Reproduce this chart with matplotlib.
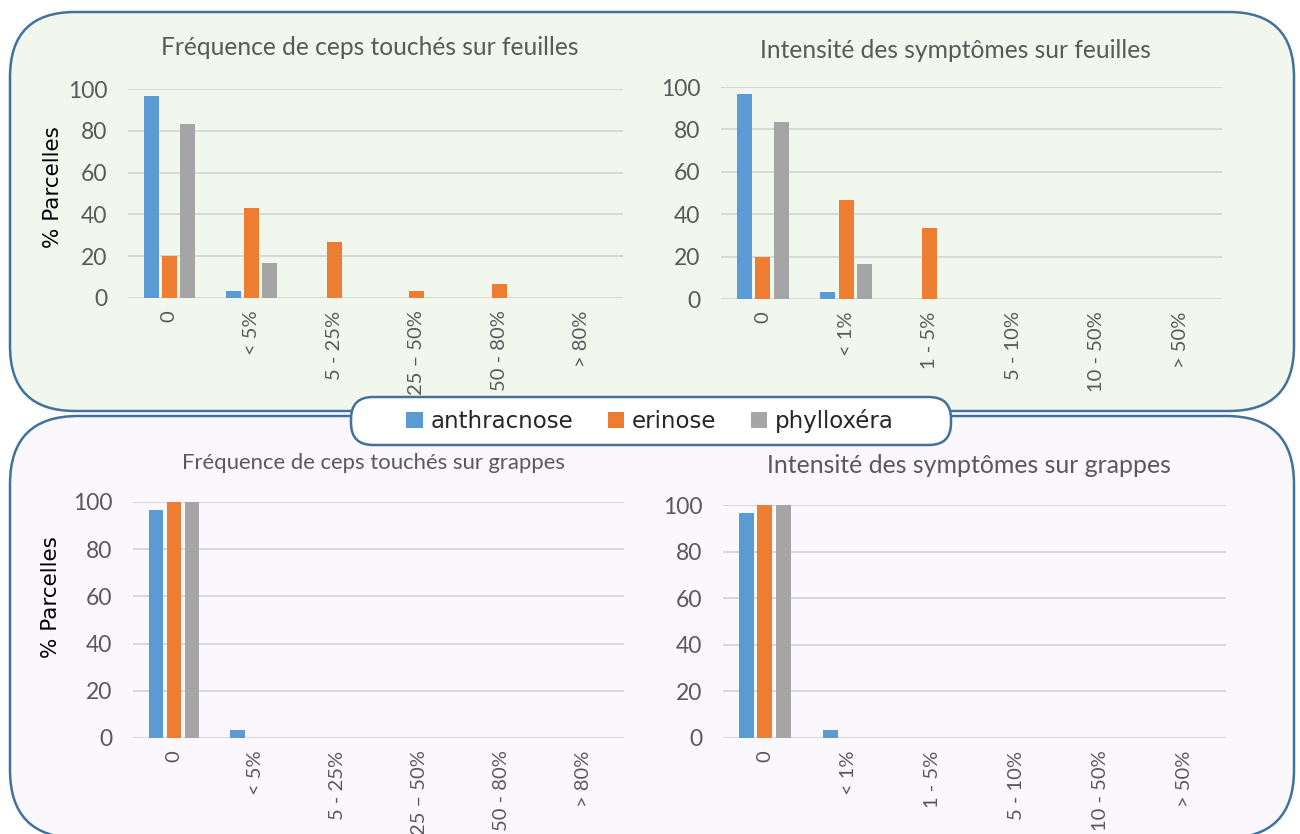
import matplotlib
matplotlib.use("Agg")
import numpy as np
import matplotlib.pyplot as plt
from matplotlib.patches import FancyBboxPatch

W, H = 1300, 834

series = ['anthracnose', 'erinose', 'phylloxéra']
colors = ['#5B9BD5', '#ED7D31', '#A5A5A5']

freq_cats = ['0', '< 5%', '5 - 25%', '25 – 50%', '50 - 80%', '> 80%']
int_cats = ['0', '< 1%', '1 - 5%', '5 - 10%', '10 - 50%', '> 50%']

# % parcelles per class (anthracnose, erinose, phylloxéra)
freq_feuilles = [
    [96.7, 3.3, 0, 0, 0, 0],
    [20.0, 43.3, 26.7, 3.3, 6.7, 0],
    [83.3, 16.7, 0, 0, 0, 0],
]
int_feuilles = [
    [96.7, 3.3, 0, 0, 0, 0],
    [20.0, 46.7, 33.3, 0, 0, 0],
    [83.3, 16.7, 0, 0, 0, 0],
]
freq_grappes = [
    [96.7, 3.3, 0, 0, 0, 0],
    [100.0, 0, 0, 0, 0, 0],
    [100.0, 0, 0, 0, 0, 0],
]
int_grappes = [
    [96.7, 3.3, 0, 0, 0, 0],
    [100.0, 0, 0, 0, 0, 0],
    [100.0, 0, 0, 0, 0, 0],
]

TXT = '#595959'
BORDER = '#41719C'
TFONT = 'Lato'

fig = plt.figure(figsize=(W / 100, H / 100), dpi=100)

# background layer in pixel coordinates
bg = fig.add_axes([0, 0, 1, 1], zorder=0)
bg.set_xlim(0, W)
bg.set_ylim(H, 0)
bg.axis('off')


def rbox(x0, y0, x1, y1, r, fc):
    p = FancyBboxPatch((x0, y0), x1 - x0, y1 - y0,
                       boxstyle=f"round,pad=0,rounding_size={r}",
                       fc=fc, ec=BORDER, lw=1.8)
    bg.add_patch(p)


rbox(10, 12, 1294, 411, 65, '#F2F7EE')
rbox(10, 416, 1294, 838, 68, '#FBF8FD')
rbox(351, 397, 951, 445, 22, 'white')


def chart(x0, y0, x1, y1, cats, data, title, tpos, tsize, ylabel=None):
    ax = fig.add_axes([x0 / W, 1 - y1 / H, (x1 - x0) / W, (y1 - y0) / H], zorder=2)
    ax.set_facecolor('none')
    x = np.arange(len(cats))
    bars = []
    for i, (vals, c) in enumerate(zip(data, colors)):
        b = ax.bar(x + (i - 1) * 0.22, vals, width=0.18, color=c, zorder=3)
        bars.append(b)
    ax.set_xlim(-0.5, len(cats) - 0.5)
    ax.set_ylim(0, 100)
    ax.set_yticks(range(0, 101, 20))
    ax.set_xticks(x)
    ax.set_xticklabels(cats, rotation=90, fontsize=14.5, color=TXT, family=TFONT)
    for lab in ax.get_yticklabels():
        lab.set_fontsize(16.5)
        lab.set_color(TXT)
        lab.set_family(TFONT)
    ax.tick_params(length=0)
    ax.tick_params(axis='y', pad=15)
    ax.tick_params(axis='x', pad=9)
    ax.grid(axis='y', color='#D9D9D9', lw=1.5, zorder=0)
    for s in ax.spines.values():
        s.set_visible(False)
    bg.text(tpos[0], tpos[1], title, ha='center', va='center',
            fontsize=tsize, color=TXT, family=TFONT)
    if ylabel:
        bg.text(ylabel[0], ylabel[1], '% Parcelles', rotation=90,
                ha='center', va='center', fontsize=15.5, color='black',
                family='DejaVu Sans')
    return bars


bars = chart(128, 89, 623, 298, freq_cats, freq_feuilles,
             'Fréquence de ceps touchés sur feuilles', (370, 47), 17.7, (53, 187))
chart(721, 87, 1222, 299, int_cats, int_feuilles,
      'Intensité des symptômes sur feuilles', (955, 50), 17.7)
chart(133, 502, 624, 738, freq_cats, freq_grappes,
      'Fréquence de ceps touchés sur grappes', (374, 463), 15.9, (51, 597))
chart(723, 505, 1226, 738, int_cats, int_grappes,
      'Intensité des symptômes sur grappes', (969, 465), 17.9)

leg = fig.legend([b[0] for b in bars], series, loc='center',
                 bbox_to_anchor=(650 / W, 1 - 421 / H), ncol=3, frameon=False,
                 prop={'family': 'DejaVu Sans', 'size': 16.5},
                 handlelength=0.7, handleheight=0.7, handletextpad=0.35,
                 columnspacing=1.5, borderpad=0)
for t in leg.get_texts():
    t.set_color('#262626')

fig.savefig('out.png', dpi=100)
